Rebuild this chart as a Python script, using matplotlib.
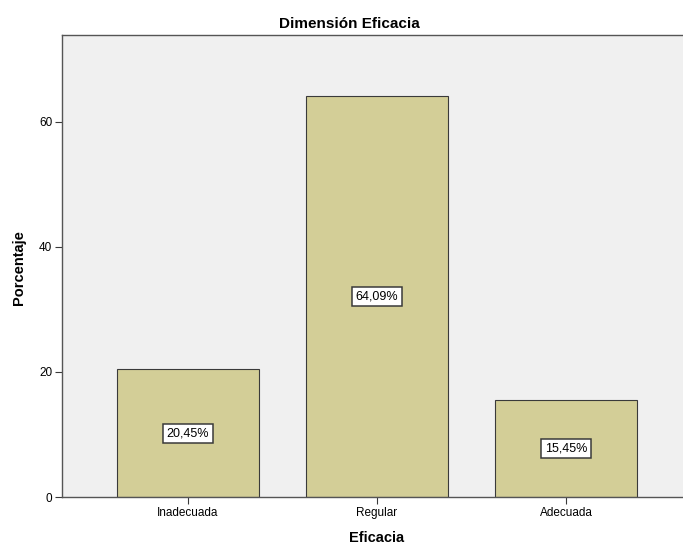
import matplotlib
matplotlib.use("Agg")
import matplotlib.pyplot as plt

plt.rcParams['font.family'] = ['Liberation Sans', 'DejaVu Sans']

categorias = ["Inadecuada", "Regular", "Adecuada"]
porcentajes = [20.45, 64.09, 15.45]
etiquetas = ["20,45%", "64,09%", "15,45%"]
yticks = [0, 20, 40, 60]

W, H = 683, 547
fig = plt.figure(figsize=(W / 100, H / 100), dpi=100)
fig.patch.set_facecolor("white")

# area del grafico (la parte derecha queda fuera del lienzo)
izq, der, arriba, abajo = 62, 692, 35, 497
ax = fig.add_axes([izq / W, 1 - abajo / H, (der - izq) / W, (abajo - arriba) / H])
ax.set_facecolor("#F0F0F0")

pos = range(len(categorias))
ax.bar(pos, porcentajes, width=0.75, color="#D3CE97", edgecolor="#3A3A3A", linewidth=0.8, zorder=2)

for x, v, txt in zip(pos, porcentajes, etiquetas):
    ax.text(x, v / 2, txt, ha="center", va="center", fontsize=9, color="black", zorder=3,
            bbox=dict(boxstyle="square,pad=0.28", facecolor="white", edgecolor="#3A3A3A", linewidth=1.1))

ax.set_xlim(-0.667, 2.667)
ax.set_ylim(0, 73.9)
ax.set_xticks(list(pos))
ax.set_xticklabels(categorias, fontsize=8.5)
ax.set_yticks(yticks)
ax.set_yticklabels([str(t) for t in yticks], fontsize=8.5)
ax.tick_params(direction="out", length=5, width=0.8, color="#3A3A3A", pad=2)

for s in ax.spines.values():
    s.set_color("#555555")
    s.set_linewidth(1.0)

fig.text(349 / W, 1 - 24 / H, "Dimensión Eficacia", ha="center", va="center", fontsize=11, fontweight="bold")
fig.text(377 / W, 1 - 538 / H, "Eficacia", ha="center", va="center", fontsize=10.5, fontweight="bold")
fig.text(19 / W, 1 - 268 / H, "Porcentaje", ha="center", va="center", rotation=90, fontsize=10.5, fontweight="bold")

fig.savefig("out.png", dpi=100)
